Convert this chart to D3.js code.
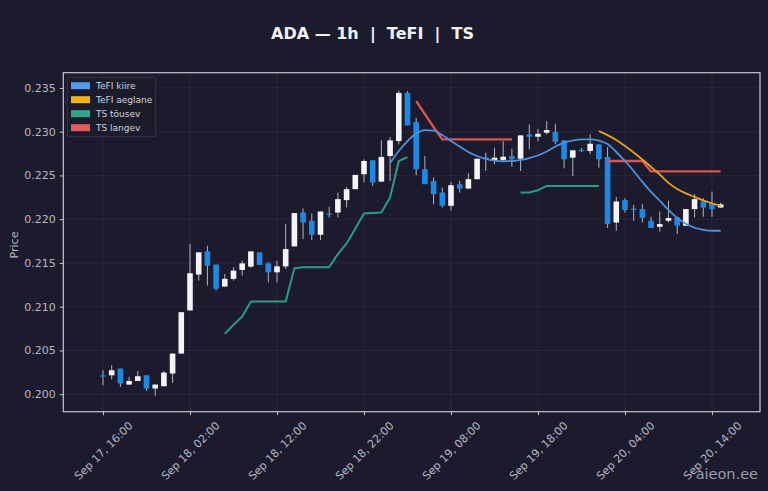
<!DOCTYPE html>
<html>
<head>
<meta charset="utf-8">
<script src="https://cdn.jsdelivr.net/npm/d3@7/dist/d3.min.js"></script>
<style>
  body { margin: 0; background: #1c1b2d; }
  svg { display: block; font-family: "DejaVu Sans", sans-serif; }
</style>
</head>
<body>
<svg id="chart" width="768" height="491"></svg>
<script>
// hourly candles, Sep 17 16:00 -> Sep 20 15:00
const hours = [
  "2025-09-17T16:00","2025-09-17T17:00","2025-09-17T18:00","2025-09-17T19:00","2025-09-17T20:00","2025-09-17T21:00","2025-09-17T22:00","2025-09-17T23:00",
  "2025-09-18T00:00","2025-09-18T01:00","2025-09-18T02:00","2025-09-18T03:00","2025-09-18T04:00","2025-09-18T05:00","2025-09-18T06:00","2025-09-18T07:00",
  "2025-09-18T08:00","2025-09-18T09:00","2025-09-18T10:00","2025-09-18T11:00","2025-09-18T12:00","2025-09-18T13:00","2025-09-18T14:00","2025-09-18T15:00",
  "2025-09-18T16:00","2025-09-18T17:00","2025-09-18T18:00","2025-09-18T19:00","2025-09-18T20:00","2025-09-18T21:00","2025-09-18T22:00","2025-09-18T23:00",
  "2025-09-19T00:00","2025-09-19T01:00","2025-09-19T02:00","2025-09-19T03:00","2025-09-19T04:00","2025-09-19T05:00","2025-09-19T06:00","2025-09-19T07:00",
  "2025-09-19T08:00","2025-09-19T09:00","2025-09-19T10:00","2025-09-19T11:00","2025-09-19T12:00","2025-09-19T13:00","2025-09-19T14:00","2025-09-19T15:00",
  "2025-09-19T16:00","2025-09-19T17:00","2025-09-19T18:00","2025-09-19T19:00","2025-09-19T20:00","2025-09-19T21:00","2025-09-19T22:00","2025-09-19T23:00",
  "2025-09-20T00:00","2025-09-20T01:00","2025-09-20T02:00","2025-09-20T03:00","2025-09-20T04:00","2025-09-20T05:00","2025-09-20T06:00","2025-09-20T07:00",
  "2025-09-20T08:00","2025-09-20T09:00","2025-09-20T10:00","2025-09-20T11:00","2025-09-20T12:00","2025-09-20T13:00","2025-09-20T14:00","2025-09-20T15:00"
];

const open = [
  0.20216,0.20216,0.20293,0.20110,0.20151,0.20216,0.20065,0.20091,
  0.20236,0.20464,0.20957,0.21367,0.21632,0.21481,0.21230,0.21318,
  0.21420,0.21458,0.21621,0.21495,0.21393,0.21461,0.21689,0.22076,
  0.21982,0.21822,0.22065,0.22076,0.22218,0.22343,0.22514,0.22673,
  0.22429,0.22722,0.22893,0.23443,0.23109,0.22571,0.22437,0.22304,
  0.22153,0.22400,0.22350,0.22457,0.22705,0.22665,0.22677,0.22722,
  0.22691,0.22969,0.22942,0.22988,0.22999,0.22901,0.22703,0.22791,
  0.22779,0.22855,0.22711,0.21962,0.22218,0.22119,0.22115,0.21982,
  0.21913,0.21982,0.22020,0.21925,0.22115,0.22202,0.22179,0.22133
];
const high = [
  0.20273,0.20330,0.20293,0.20197,0.20265,0.20216,0.20110,0.20265,
  0.20464,0.20937,0.21716,0.21621,0.21697,0.21481,0.21375,0.21450,
  0.21526,0.21632,0.21621,0.21507,0.21526,0.21944,0.22070,0.22122,
  0.22065,0.22088,0.22141,0.22304,0.22366,0.22506,0.22685,0.22673,
  0.22901,0.22939,0.23470,0.23462,0.23158,0.22722,0.22475,0.22361,
  0.22426,0.22437,0.22525,0.22691,0.22760,0.22817,0.22893,0.22805,
  0.22958,0.23083,0.23030,0.23121,0.23090,0.22901,0.22787,0.22813,
  0.22969,0.22855,0.22825,0.22255,0.22240,0.22164,0.22172,0.22027,
  0.22088,0.22210,0.22020,0.22115,0.22286,0.22240,0.22316,0.22187
];
const low = [
  0.20103,0.20171,0.20083,0.20110,0.20151,0.20038,0.19981,0.20091,
  0.20129,0.20464,0.20957,0.21298,0.21241,0.21185,0.21230,0.21298,
  0.21355,0.21443,0.21477,0.21278,0.21278,0.21432,0.21689,0.21773,
  0.21762,0.21762,0.22019,0.22019,0.22133,0.22343,0.22418,0.22380,
  0.22429,0.22437,0.22855,0.23071,0.22502,0.22400,0.22172,0.22133,
  0.22096,0.22304,0.22343,0.22457,0.22551,0.22628,0.22665,0.22600,
  0.22551,0.22798,0.22893,0.22969,0.22855,0.22582,0.22494,0.22768,
  0.22742,0.22589,0.21899,0.21868,0.22076,0.21982,0.21962,0.21899,
  0.21860,0.21962,0.21830,0.21925,0.22020,0.22027,0.22027,0.22130
];
const close = [
  0.20210,0.20273,0.20122,0.20151,0.20205,0.20065,0.20110,0.20247,
  0.20464,0.20937,0.21382,0.21621,0.21469,0.21204,0.21318,0.21412,
  0.21495,0.21632,0.21477,0.21393,0.21461,0.21659,0.22070,0.21962,
  0.21822,0.22088,0.22062,0.22229,0.22343,0.22506,0.22665,0.22418,
  0.22711,0.22901,0.23443,0.23071,0.22571,0.22400,0.22286,0.22153,
  0.22388,0.22350,0.22457,0.22691,0.22699,0.22703,0.22714,0.22685,
  0.22958,0.22942,0.22976,0.23018,0.22885,0.22685,0.22787,0.22785,
  0.22862,0.22685,0.21944,0.22202,0.22104,0.22112,0.22013,0.21899,
  0.21944,0.22013,0.21925,0.22115,0.22229,0.22133,0.22115,0.22170
];

// indicators (null where the line is not drawn)
const tefiFast = Array(33).fill(null).concat([
  0.22642,0.22779,0.22893,0.22978,0.23018,0.23012,0.22961,0.22893,
  0.22830,0.22768,0.22722,0.22688,0.22669,0.22662,0.22665,0.22677,
  0.22699,0.22728,0.22773,0.22830,0.22876,0.22899,0.22912,0.22912,
  0.22899,0.22859,0.22768,0.22665,0.22551,0.22426,0.22312,0.22210,
  0.22107,0.22016,0.21948,0.21902,0.21879,0.21868,0.21868
]);
const tefiSlow = Array(57).fill(null).concat([
  0.23007,0.22961,0.22904,0.22836,0.22762,0.22682,0.22597,0.22511,
  0.22415,0.22346,0.22295,0.22255,0.22215,0.22181,0.22153
]);
const tsUp = Array(14).fill(null).concat([
  0.20691,0.20792,0.20888,0.21059,0.21059,0.21059,0.21059,0.21059,
  0.21438,0.21452,0.21452,0.21452,0.21452,0.21602,0.21723,0.21891,
  0.22065,0.22070,0.22076,0.22247,0.22665,0.22710
], Array(12).fill(null), [
  0.22304,0.22306,0.22331,0.22380,0.22380,0.22380,0.22380,0.22380,0.22380,0.22380
], Array(14).fill(null));
const tsDown = Array(36).fill(null).concat([
  0.23349,0.23201,0.23052,0.22912,0.22912,0.22912,0.22912,0.22912,
  0.22912,0.22912,0.22912,0.22912
], Array(10).fill(null), [
  0.22665,0.22665,0.22665,0.22665,0.22665,0.22546,0.22546,0.22546,
  0.22546,0.22546,0.22546,0.22546,0.22546,0.22546
]);

const tickHours = ["2025-09-17T16:00","2025-09-18T02:00","2025-09-18T12:00","2025-09-18T22:00",
                   "2025-09-19T08:00","2025-09-19T18:00","2025-09-20T04:00","2025-09-20T14:00"];
const priceTicks = [0.200, 0.205, 0.210, 0.215, 0.220, 0.225, 0.230, 0.235];

const seriesNames = ["TeFI kiire", "TeFI aeglane", "TS tõusev", "TS langev"];
const seriesColors = ["#4d90dc", "#e0a21c", "#2a9e84", "#dd5252"];
const legendColors = ["#4e9cf2", "#f0b214", "#2fa58a", "#e45a5a"];

const W = 768, H = 491;
const plot = { left: 63.3, right: 760, top: 72.7, bottom: 411.7 };
const bg = "#1c1b2d";
const axisColor = "#c6c6d0";
const textColor = "#b6b6c2";

const svg = d3.select("#chart");
svg.append("rect").attr("width", W).attr("height", H).attr("fill", bg);

const parse = d3.utcParse("%Y-%m-%dT%H:%M");
const times = hours.map(parse);
const hour = 3600e3;

const x = d3.scaleUtc()
  .domain([new Date(+times[0] - 4.563 * hour), new Date(+times[times.length - 1] + 4.52 * hour)])
  .range([plot.left, plot.right]);
const y = d3.scaleLinear()
  .domain([0.198, 0.23674])
  .range([plot.bottom, plot.top]);

const tickTimes = tickHours.map(parse);

// grid
const grid = svg.append("g").attr("stroke", "#ffffff").attr("stroke-opacity", 0.07).attr("stroke-width", 0.8);
grid.selectAll("line.v").data(tickTimes).enter().append("line")
  .attr("x1", d => x(d)).attr("x2", d => x(d))
  .attr("y1", plot.top).attr("y2", plot.bottom);
grid.selectAll("line.h").data(priceTicks).enter().append("line")
  .attr("x1", plot.left).attr("x2", plot.right)
  .attr("y1", d => y(d)).attr("y2", d => y(d));

// axes
const yAxis = svg.append("g")
  .attr("transform", `translate(${plot.left},0)`)
  .call(d3.axisLeft(y).tickValues(priceTicks).tickFormat(d3.format(".3f")).tickSize(3.5).tickPadding(4));
const xAxis = svg.append("g")
  .attr("transform", `translate(0,${plot.bottom})`)
  .call(d3.axisBottom(x).tickValues(tickTimes).tickFormat(d3.utcFormat("%b %d, %H:%M")).tickSize(3.5));

[xAxis, yAxis].forEach(g => {
  g.select(".domain").remove();
  g.selectAll(".tick line").attr("stroke", axisColor);
  g.selectAll(".tick text").attr("fill", textColor).attr("font-size", 11)
    .attr("font-family", "DejaVu Sans, sans-serif");
});
xAxis.selectAll(".tick text")
  .attr("y", 0).attr("x", 0).attr("dy", "0.35em")
  .attr("text-anchor", "middle")
  .attr("transform", "translate(0,39) rotate(-45)");

// candles
const idx = d3.range(times.length);
const bodyW = 5.6;
const candles = svg.append("g");
candles.selectAll("line").data(idx).enter().append("line")
  .attr("x1", i => x(times[i])).attr("x2", i => x(times[i]))
  .attr("y1", i => y(high[i])).attr("y2", i => y(low[i]))
  .attr("stroke", "#b4b4bc").attr("stroke-width", 1);
candles.selectAll("rect").data(idx).enter().append("rect")
  .attr("x", i => x(times[i]) - bodyW / 2)
  .attr("width", bodyW)
  .attr("y", i => y(Math.max(open[i], close[i])))
  .attr("height", i => Math.max(1.2, Math.abs(y(open[i]) - y(close[i]))))
  .attr("fill", i => close[i] >= open[i] ? "#f4f4f6" : "#1e88e5");

// indicator lines
const mkLine = curve => d3.line()
  .defined(d => d[1] != null)
  .x(d => x(d[0])).y(d => y(d[1]))
  .curve(curve);
const lineSpecs = [
  { vals: tsUp, color: seriesColors[2], w: 2, curve: d3.curveLinear },
  { vals: tsDown, color: seriesColors[3], w: 2.4, curve: d3.curveLinear },
  { vals: tefiSlow, color: seriesColors[1], w: 1.8, curve: d3.curveMonotoneX },
  { vals: tefiFast, color: seriesColors[0], w: 1.8, curve: d3.curveMonotoneX }
];
lineSpecs.forEach(s => {
  svg.append("path")
    .datum(times.map((t, i) => [t, s.vals[i]]))
    .attr("fill", "none").attr("stroke", s.color).attr("stroke-width", s.w)
    .attr("stroke-linejoin", "round")
    .attr("d", mkLine(s.curve));
});

// frame
svg.append("rect")
  .attr("x", plot.left).attr("y", plot.top)
  .attr("width", plot.right - plot.left).attr("height", plot.bottom - plot.top)
  .attr("fill", "none").attr("stroke", axisColor).attr("stroke-width", 1.2);

// legend
const lg = svg.append("g").attr("transform", "translate(67.3,77.3)");
lg.append("rect").attr("width", 88.4).attr("height", 59.4).attr("rx", 2)
  .attr("fill", bg).attr("fill-opacity", 0.85).attr("stroke", "#3c3c50").attr("stroke-width", 0.8);
const items = lg.selectAll("g.item").data(seriesNames).enter().append("g")
  .attr("transform", (d, i) => `translate(0,${8.4 + i * 14})`);
items.append("rect").attr("x", 3.7).attr("y", -3.5).attr("width", 19).attr("height", 7)
  .attr("fill", (d, i) => legendColors[i]);
items.append("text").attr("x", 28.7).attr("dy", "0.35em")
  .attr("font-size", 9).attr("fill", "#d2d2dc").text(d => d);

// title, y label, watermark
svg.append("text").attr("x", 372.5).attr("y", 39).attr("text-anchor", "middle")
  .attr("font-size", 16).attr("font-weight", "bold").attr("fill", "#f2f2f6")
  .style("white-space", "pre").text("ADA — 1h  |  TeFI  |  TS");
svg.append("text").attr("transform", "translate(18,245) rotate(-90)")
  .attr("text-anchor", "middle").attr("font-size", 11).attr("fill", textColor).text("Price");
svg.append("text").attr("x", 758).attr("y", 479).attr("text-anchor", "end")
  .attr("font-size", 14.5).attr("fill", "#9c9cab").text("aieon.ee");
</script>
</body>
</html>
